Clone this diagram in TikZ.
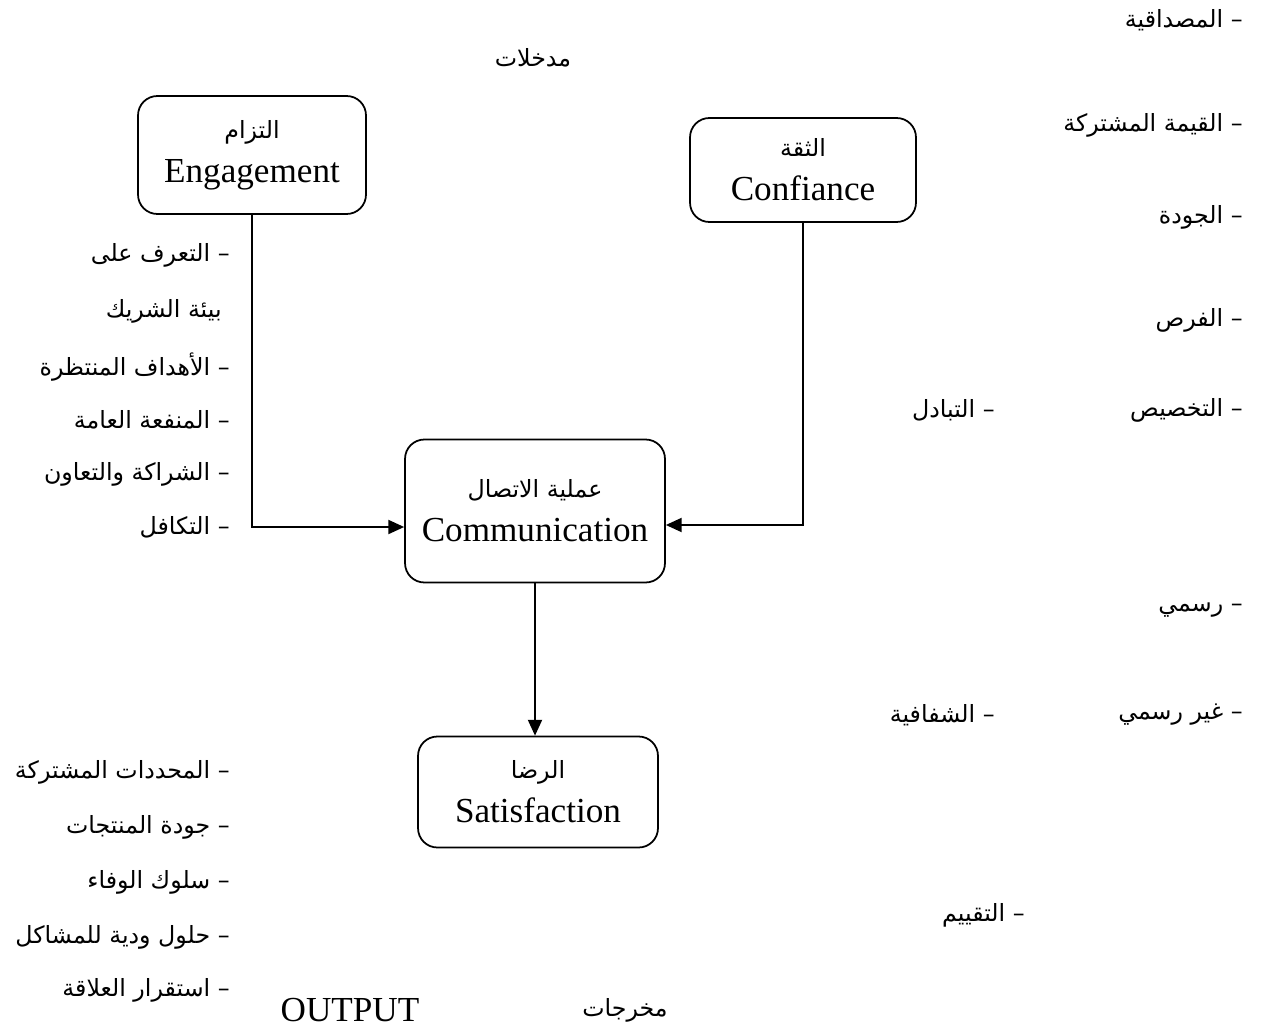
\documentclass[tikz,border=0pt]{standalone}
\usepackage{fontspec}
\setmainfont{Liberation Serif}
\newfontfamily\arabicfont[Script=Arabic]{DejaVu Sans}
\TeXXeTstate=1
\usetikzlibrary{arrows.meta}
\newcommand{\artxt}[1]{{\arabicfont\fontsize{13.5}{16}\selectfont\beginR #1\endR}}

\begin{document}
\begin{tikzpicture}[x=0.02cm,y=-0.02cm,
  box/.style={draw,line width=1pt,rounded corners=11pt,align=center,font=\fontsize{20}{25}\selectfont},
  item/.style={anchor=east,inner sep=0pt},
  link/.style={line width=1pt,-{Triangle[length=9pt,width=8pt]}}]
\useasboundingbox (0,0) rectangle (1274,1034);

\node (inputs) at (533,58) {\artxt{مدخلات}};

\node[box,minimum width=4.56cm,minimum height=2.36cm](eng) at (252,155) {\artxt{التزام}\\Engagement};
\node[box,minimum width=4.52cm,minimum height=2.08cm](conf) at (803,170) {\artxt{الثقة}\\Confiance};
\node[box,minimum width=5.2cm,minimum height=2.86cm](com) at (535,511) {\artxt{عملية الاتصال}\\Communication};
\node[box,minimum width=4.8cm,minimum height=2.22cm](sat) at (538,792) {\artxt{الرضا}\\Satisfaction};

\draw[link](eng.south) |- ([yshift=-0.32cm]com.west);
\draw[link](conf.south) |- ([yshift=-0.28cm]com.east);
\draw[link](com.south) -- (com.south |- sat.north);

\node[item](e1) at (230,255) {\artxt{– التعرف على}};
\node[item](e1b) at (222,311) {\artxt{بيئة الشريك}};
\node[item](e2) at (230,367) {\artxt{– الأهداف المنتظرة}};
\node[item](e3) at (230,420) {\artxt{– المنفعة العامة}};
\node[item](e4) at (230,474) {\artxt{– الشراكة والتعاون}};
\node[item](e5) at (230,527) {\artxt{– التكافل}};

\node[item](s1) at (230,772) {\artxt{– المحددات المشتركة}};
\node[item](s2) at (230,827) {\artxt{– جودة المنتجات}};
\node[item](s3) at (230,882) {\artxt{– سلوك الوفاء}};
\node[item](s4) at (230,937) {\artxt{– حلول ودية للمشاكل}};
\node[item](s5) at (230,990) {\artxt{– استقرار العلاقة}};

\node[item](c1) at (1243,20) {\artxt{– المصداقية}};
\node[item](c2) at (1243,125) {\artxt{– القيمة المشتركة}};
\node[item](c3) at (1243,217) {\artxt{– الجودة}};
\node[item](c4) at (1243,320) {\artxt{– الفرص}};
\node[item](c5) at (1243,410) {\artxt{– التخصيص}};
\node[item](c6) at (1243,610) {\artxt{– رسمي}};
\node[item](c7) at (1243,715) {\artxt{– غير رسمي}};

\node[item](m1) at (995,410) {\artxt{– التبادل}};
\node[item](m2) at (995,715) {\artxt{– الشفافية}};
\node[item](m3) at (1025,915) {\artxt{– التقييم}};

\node[font=\fontsize{20}{24}\selectfont](outp) at (350,1010) {OUTPUT};
\node (outar) at (625,1010) {\artxt{مخرجات}};

\end{tikzpicture}
\end{document}
